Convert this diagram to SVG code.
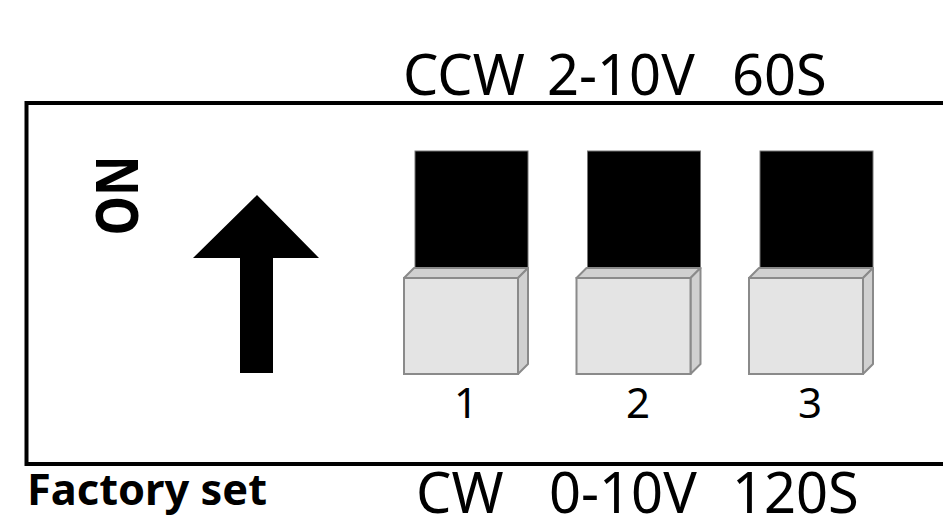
<svg xmlns="http://www.w3.org/2000/svg" xmlns:xlink="http://www.w3.org/1999/xlink" width="943" height="516" viewBox="0 0 943 516">
<style>
.lbl{font-family:"Noto Sans","Open Sans",sans-serif;font-size:56px;fill:#000}
.num{font-family:"Noto Sans","Open Sans",sans-serif;font-size:42px;fill:#000;text-anchor:middle}
.bold{font-family:"Noto Sans","Open Sans",sans-serif;font-weight:bold;fill:#000}
.frame{fill:none;stroke:#000;stroke-width:4}
.cap{fill:#000;stroke:#777;stroke-width:1}
.front{fill:#e4e4e4;stroke:#8a8a8a;stroke-width:2}
.face{fill:#d0d0d0;stroke:#8a8a8a;stroke-width:2;stroke-linejoin:round}
</style>
<defs>
<g id="sw">
<rect class="cap" x="415" y="151" width="113" height="117"/>
<polygon class="face" points="404,278 414,268 528,268 518,278"/>
<polygon class="face" points="518,278 528,268 528,364 518,374"/>
<rect class="front" x="404" y="278" width="114" height="96"/>
</g>
</defs>
<rect width="943" height="516" fill="#fff"/>
<g id="frame"><path class="frame" d="M945,103 H26.5 V464 H945"/></g>
<g id="on-label"><text class="bold" font-size="60" textLength="80" lengthAdjust="spacingAndGlyphs" text-anchor="middle" transform="translate(138,195.5) rotate(-90)">ON</text></g>
<g id="arrow"><polygon points="257,195 319,258 273,258 273,373 240,373 240,258 193,258" fill="#000"/></g>
<g id="switch1"><use xlink:href="#sw" href="#sw"/><text class="num" x="466" y="418">1</text></g>
<g id="switch2"><use xlink:href="#sw" href="#sw" transform="translate(172.5,0)"/><text class="num" x="638" y="418">2</text></g>
<g id="switch3"><use xlink:href="#sw" href="#sw" transform="translate(345,0)"/><text class="num" x="810" y="418">3</text></g>
<g id="top-labels">
<text class="lbl" x="403" y="95">CCW</text>
<text class="lbl" x="547" y="95">2-10V</text>
<text class="lbl" x="732" y="95">60S</text>
</g>
<g id="bottom-labels">
<text class="bold" font-size="43" x="27" y="505" textLength="240" lengthAdjust="spacingAndGlyphs">Factory set</text>
<text class="lbl" x="416" y="513">CW</text>
<text class="lbl" x="549" y="513">0-10V</text>
<text class="lbl" x="732" y="513">120S</text>
</g>
<g id="connectors"/>
</svg>
